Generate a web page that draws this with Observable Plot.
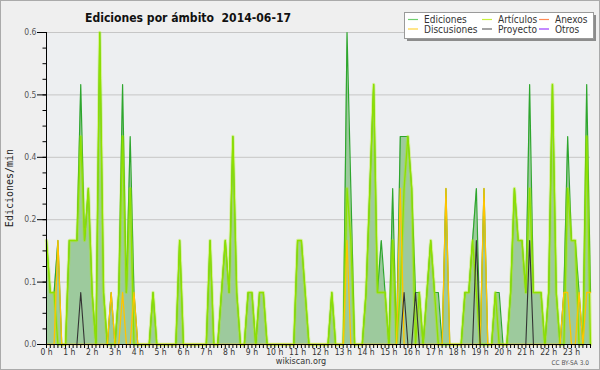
<!DOCTYPE html>
<html><head><meta charset="utf-8">
<script src="https://cdn.jsdelivr.net/npm/d3@7"></script>
<script src="https://cdn.jsdelivr.net/npm/@observablehq/plot@0.6"></script>
<style>
html,body{margin:0;padding:0;background:#efefef;}
#wrap{position:relative;width:600px;height:370px;overflow:hidden;background:#efefef;}
#wrap svg{position:absolute;left:0;top:0;}
#border{position:absolute;left:0;top:0;width:600px;height:370px;box-sizing:border-box;border:1px solid #aaa;pointer-events:none;}
</style></head><body>
<div id="wrap"><div id="border"></div></div>
<script>
// ---- data (10-minute bins, 0h00 .. 23h50), values in edits/min ----
const hourLabels = ["0 h","1 h","2 h","3 h","4 h","5 h","6 h","7 h","8 h","9 h","10 h","11 h",
  "12 h","13 h","14 h","15 h","16 h","17 h","18 h","19 h","20 h","21 h","22 h","23 h"];
const yTicks = [0, 0.12, 0.24, 0.36, 0.48, 0.6];
const seriesNames = ["Ediciones","Artículos","Anexos","Discusiones","Proyecto","Otros"];
const seriesColors = ["#6fcf6f","#c8f03c","#ff8a55","#ffd43c","#666666","#9b3cff"];

const ediciones = [
  0.2,0.1,0.1,0.2,0,0,0.2,0.2,0.2,0.5,0.2,0.3,
  0.1,0,0.6,0.1,0,0.1,0,0.1,0.5,0.1,0.4,0.1,
  0,0,0,0,0.1,0,0,0,0,0,0,0.2,
  0,0,0,0,0,0,0,0.2,0,0,0.1,0.2,
  0.1,0.4,0.1,0,0,0.1,0.1,0,0.1,0.1,0,0,
  0,0,0,0,0,0,0.2,0.2,0.1,0,0,0,
  0,0,0,0.1,0,0,0,0.6,0.3,0,0,0,
  0.1,0.3,0.5,0.1,0.2,0.1,0,0.3,0,0.4,0.4,0.4,
  0.3,0.1,0.1,0,0.1,0.2,0.1,0.1,0,0.3,0,0,
  0,0,0.1,0.1,0.2,0.3,0,0.3,0,0,0.1,0.1,
  0,0,0.1,0.3,0.2,0.2,0.1,0.5,0.1,0.1,0.1,0,
  0.1,0.5,0.1,0,0.1,0.4,0.2,0.2,0.1,0,0.5,0.1
];
const articulos = [
  0.2,0.1,0.1,0,0,0,0.2,0.2,0.2,0.4,0.2,0.3,
  0.1,0,0.6,0.1,0,0,0,0.1,0.4,0.1,0.3,0,
  0,0,0,0,0.1,0,0,0,0,0,0,0.2,
  0,0,0,0,0,0,0,0.2,0,0,0.1,0.2,
  0.1,0.4,0.1,0,0,0.1,0.1,0,0.1,0.1,0,0,
  0,0,0,0,0,0,0.2,0.2,0.1,0,0,0,
  0,0,0,0.1,0,0,0,0.3,0.2,0,0,0,
  0.1,0.3,0.5,0.1,0.1,0.1,0,0.2,0,0.1,0.3,0.4,
  0.3,0,0.1,0,0.1,0.2,0.1,0,0,0,0,0,
  0,0,0.1,0.1,0.2,0.1,0,0,0,0,0.1,0,
  0,0,0.1,0.3,0.2,0.2,0.1,0.3,0.1,0.1,0.1,0,
  0.1,0.5,0.1,0,0,0.3,0.2,0.2,0,0,0.4,0
];
const anexos = [
  0,0,0,0,0,0,0,0,0,0,0,0, 0,0,0,0,0,0,0,0,0,0,0,0,
  0,0,0,0,0,0,0,0,0,0,0,0, 0,0,0,0,0,0,0,0,0,0,0,0,
  0,0,0,0,0,0,0,0,0,0,0,0, 0,0,0,0,0,0,0,0,0,0,0,0,
  0,0,0,0,0,0,0,0,0,0,0,0, 0,0,0,0,0,0,0,0,0,0,0,0,
  0,0,0,0,0,0,0,0,0,0,0,0, 0,0,0,0,0,0,0,0,0,0,0,0,
  0,0,0,0,0,0,0,0,0,0,0,0, 0,0,0,0,0,0,0,0,0,0,0,0
];
const discusiones = [
  0,0,0,0.2,0,0,0,0,0,0,0,0,
  0,0,0,0,0,0.1,0,0,0.1,0,0,0.1,
  0,0,0,0,0,0,0,0,0,0,0,0,
  0,0,0,0,0,0,0,0,0,0,0,0,
  0,0,0,0,0,0,0,0,0,0,0,0,
  0,0,0,0,0,0,0,0,0,0,0,0,
  0,0,0,0,0,0,0,0.2,0,0,0,0,
  0,0,0,0,0,0,0,0,0,0.3,0,0,
  0,0,0,0,0,0,0,0,0,0.3,0,0,
  0,0,0,0,0,0,0,0.3,0,0,0,0,
  0,0,0,0,0,0,0,0,0,0,0,0,
  0,0,0,0,0.1,0.1,0,0,0.1,0,0.1,0.1
];
const proyecto = [
  0,0,0,0,0,0,0,0,0,0.1,0,0,
  0,0,0,0,0,0,0,0,0,0,0,0,
  0,0,0,0,0,0,0,0,0,0,0,0,
  0,0,0,0,0,0,0,0,0,0,0,0,
  0,0,0,0,0,0,0,0,0,0,0,0,
  0,0,0,0,0,0,0,0,0,0,0,0,
  0,0,0,0,0,0,0,0,0,0,0,0,
  0,0,0,0,0,0,0,0,0,0,0.1,0,
  0,0.1,0,0,0,0,0,0,0,0,0,0,
  0,0,0,0,0,0.2,0,0,0,0,0,0,
  0,0,0,0,0,0,0,0.2,0,0,0,0,
  0,0,0,0,0,0,0,0,0,0,0,0
];
const otros = [
  0,0,0,0,0,0,0,0,0,0,0,0, 0,0,0,0,0,0,0,0,0,0,0,0,
  0,0,0,0,0,0,0,0,0,0,0,0, 0,0,0,0,0,0,0,0,0,0,0,0,
  0,0,0,0,0,0,0,0,0,0,0,0, 0,0,0,0,0,0,0,0,0,0,0,0,
  0,0,0,0,0,0,0,0,0,0,0,0, 0,0,0,0,0,0,0,0,0,0,0,0,
  0,0,0,0,0,0,0,0,0,0,0,0, 0,0,0,0,0,0,0,0,0,0,0,0,
  0,0,0,0,0,0,0,0,0,0,0,0, 0,0,0,0,0,0,0,0,0,0,0,0
];

const data = ediciones.map((e, i) => ({
  i, E: e, A: articulos[i], N: anexos[i], D: discusiones[i], P: proyecto[i], O: otros[i]
}));

const FONT = '"DejaVu Sans Condensed","DejaVu Sans",sans-serif';
const fmt1 = d3.format(".1f");

const chart = Plot.plot({
  width: 600, height: 370,
  marginLeft: 46, marginRight: 10, marginTop: 32, marginBottom: 26,
  style: {background: "transparent", fontFamily: FONT, fontSize: "8.5px", overflow: "visible"},
  x: {domain: [0, 143], axis: null},
  y: {domain: [0, 0.6], axis: null},
  marks: [
    Plot.frame({fill: "#edeff1", stroke: null}),
    Plot.gridY(yTicks.slice(1), {stroke: "#c6c6c6", strokeOpacity: 1}),
    Plot.areaY(data, {x: "i", y: "E", fill: "#9dca9d"}),
    Plot.lineY(data, {x: "i", y: "E", stroke: "#2ea62e", strokeWidth: 1.2}),
    Plot.lineY(data, {x: "i", y: "A", stroke: "#a8f000", strokeWidth: 3.4, strokeOpacity: 0.35}),
    Plot.lineY(data, {x: "i", y: "A", stroke: "#8fe000", strokeWidth: 1.3}),
    Plot.lineY(data, {x: "i", y: "N", stroke: seriesColors[2], strokeWidth: 1}),
    Plot.lineY(data, {x: "i", y: "O", stroke: seriesColors[5], strokeWidth: 1}),
    Plot.lineY(data, {x: "i", y: "D", stroke: "#ffc400", strokeWidth: 1.3}),
    Plot.lineY(data, {x: "i", y: "P", stroke: "#333333", strokeWidth: 1.1}),
    Plot.ruleY([0], {stroke: "#000"}),
    Plot.ruleX([0], {stroke: "#000"}),
    Plot.axisX(d3.range(144), {tickSize: 4, tickFormat: () => "", label: null, color: "#000"}),
    Plot.axisX(d3.range(0, 144, 6), {tickSize: 0, tickPadding: 4, label: null, color: "#333",
      tickFormat: d => hourLabels[d / 6], fontSize: 8.5}),
    Plot.axisY(d3.range(0, 0.6001, 0.03), {tickSize: 3.5, tickFormat: () => "", label: null, color: "#000"}),
    Plot.axisY(yTicks, {tickSize: 9, tickPadding: 1, tickFormat: fmt1, label: null, color: "#000", fill: "#555", fontSize: 8.5})
  ]
});

document.getElementById("wrap").insertBefore(chart, document.getElementById("border"));
const svg = d3.select(chart);

// title
svg.append("text")
  .attr("x", 85).attr("y", 22)
  .attr("text-anchor", "start")
  .attr("textLength", 206).attr("lengthAdjust", "spacingAndGlyphs")
  .attr("xml:space", "preserve")
  .style("white-space", "pre")
  .attr("font-family", FONT).attr("font-weight", "bold").attr("font-size", 13)
  .attr("fill", "#111")
  .text("Ediciones por ámbito  2014-06-17");

// y-axis label
svg.append("text")
  .attr("transform", "translate(13,188) rotate(-90)")
  .attr("text-anchor", "middle")
  .attr("font-family", '"DejaVu Sans Mono",monospace').attr("font-size", 10)
  .attr("fill", "#222")
  .text("Ediciones/min");

// footer
svg.append("text").attr("x", 301).attr("y", 364).attr("text-anchor", "middle")
  .attr("font-family", FONT).attr("font-size", 9).attr("fill", "#333").text("wikiscan.org");
svg.append("text").attr("x", 589).attr("y", 365).attr("text-anchor", "end")
  .attr("font-family", FONT).attr("font-size", 6.5).attr("fill", "#555").text("CC BY-SA 3.0");

// legend
const lg = svg.append("g").attr("text-anchor", "start");
lg.append("rect").attr("x", 407).attr("y", 15).attr("width", 189).attr("height", 26).attr("fill", "#8c8c8c");
lg.append("rect").attr("x", 404.5).attr("y", 12.5).attr("width", 189).attr("height", 26)
  .attr("fill", "#fff").attr("stroke", "#9a9a9a");
const cols = [408, 482, 539];
const rows = [19.5, 29];
seriesNames.forEach((name, k) => {
  const c = k % 3, r = Math.floor(k / 3);
  lg.append("line").attr("x1", cols[c]).attr("x2", cols[c] + 10)
    .attr("y1", rows[r]).attr("y2", rows[r])
    .attr("stroke", seriesColors[k]).attr("stroke-width", 1.2);
  lg.append("text").attr("x", cols[c] + 16).attr("y", rows[r] + 3.6)
    .attr("text-anchor", "start")
    .attr("font-family", FONT).attr("font-size", 10).attr("fill", "#333").text(name);
});
</script>
</body></html>
